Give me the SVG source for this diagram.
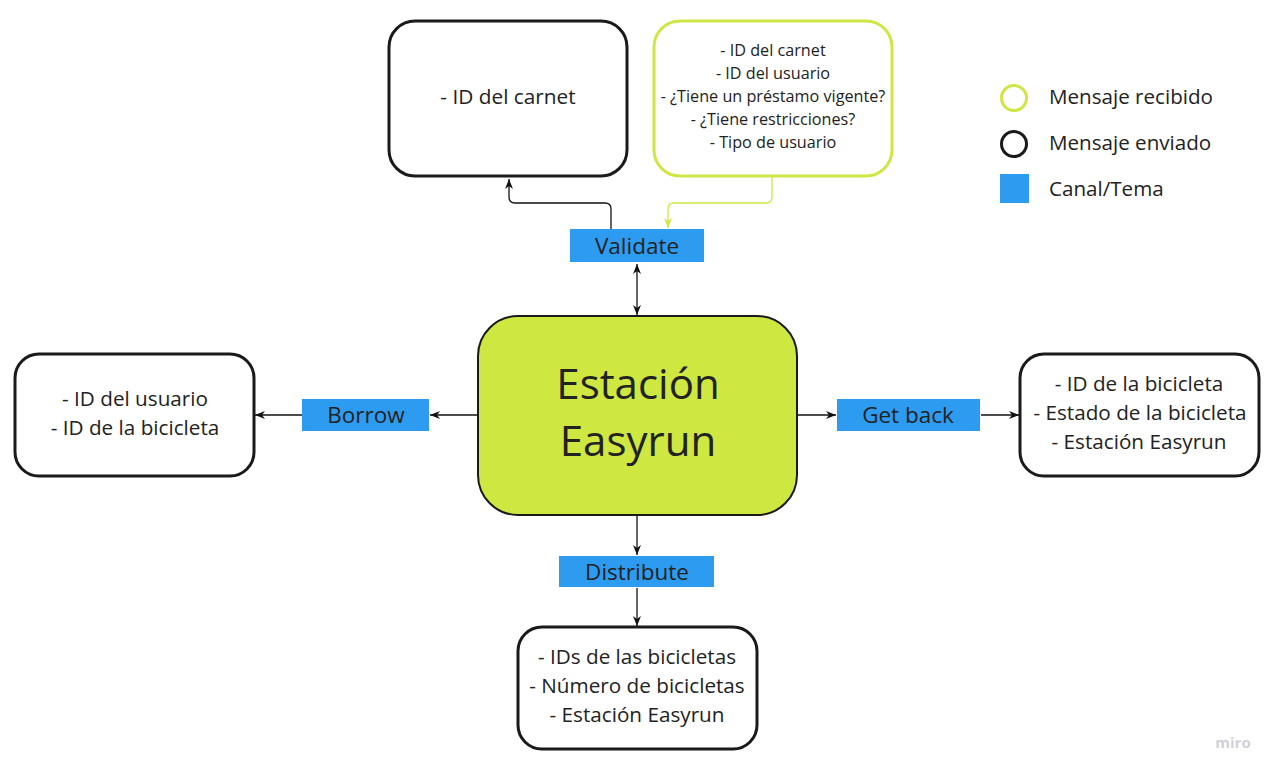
<svg xmlns="http://www.w3.org/2000/svg" width="1283" height="779" viewBox="0 0 1283 779">
<defs>
<style>
text{font-family:"Open Sans","Noto Sans","Liberation Sans",sans-serif;fill:#222;text-anchor:middle}
.msg{fill:#fff;stroke:#1a1a1a;stroke-width:3}
.rcv{fill:#fff;stroke:#cfe645;stroke-width:3}
.ch{fill:#2d9bf0}
.t20{font-size:20.8px}
.t19{font-size:20.7px}
.t15{font-size:16.2px}
.tc{font-size:22.5px}
.tl{font-size:20.6px;text-anchor:start}
.ln{fill:none;stroke:#111;stroke-width:1.3}
.lg{fill:none;stroke:#cfe645;stroke-width:1.3}
</style>
<marker id="ah" viewBox="0 0 10 10" refX="10" refY="5" markerWidth="10" markerHeight="10" markerUnits="userSpaceOnUse" orient="auto-start-reverse">
<path d="M0,1 L10,5 L0,9 L3,5 Z" fill="#111"/>
</marker>
<marker id="ahg" viewBox="0 0 10 10" refX="10" refY="5" markerWidth="10" markerHeight="10" markerUnits="userSpaceOnUse" orient="auto">
<path d="M0,1 L10,5 L0,9 L3,5 Z" fill="#cfe645"/>
</marker>
</defs>
<rect width="1283" height="779" fill="#fff"/>
<g id="connectors">
<path class="ln" d="M611,229 V209 Q611,203 605,203 H515 Q509,203 509,197 V179" marker-end="url(#ah)"/>
<path class="lg" d="M772,177 V197 Q772,203 766,203 H674 Q668,203 668,209 V228" marker-end="url(#ahg)"/>
<path class="ln" d="M637,264 V315" marker-start="url(#ah)" marker-end="url(#ah)"/>
<path class="ln" d="M477,415 H430" marker-end="url(#ah)"/>
<path class="ln" d="M302,415 H255" marker-end="url(#ah)"/>
<path class="ln" d="M798,415 H836" marker-end="url(#ah)"/>
<path class="ln" d="M981,415 H1019" marker-end="url(#ah)"/>
<path class="ln" d="M637,516 V555" marker-end="url(#ah)"/>
<path class="ln" d="M637,588 V626" marker-end="url(#ah)"/>
</g>
<g id="node-carnet">
<rect class="msg" x="389" y="21" width="238" height="155" rx="26"/>
<text class="t20" x="508" y="104">- ID del carnet</text>
</g>
<g id="node-validacion">
<rect class="rcv" x="654" y="21" width="238" height="155" rx="26"/>
<text class="t15" x="773" y="56">- ID del carnet</text>
<text class="t15" x="773" y="79">- ID del usuario</text>
<text class="t15" x="773" y="102">- ¿Tiene un préstamo vigente?</text>
<text class="t15" x="773" y="125">- ¿Tiene restricciones?</text>
<text class="t15" x="773" y="148">- Tipo de usuario</text>
</g>
<g id="ch-validate">
<rect class="ch" x="570" y="229" width="134" height="33"/>
<text class="tc" x="637" y="254">Validate</text>
</g>
<g id="node-estacion">
<rect x="478" y="316" width="319" height="199" rx="40" fill="#cee741" stroke="#1a1a1a" stroke-width="2"/>
<text x="638" y="399" font-size="42">Estación</text>
<text x="638" y="456" font-size="42">Easyrun</text>
</g>
<g id="ch-borrow">
<rect class="ch" x="302" y="399" width="127" height="32"/>
<text class="tc" x="366" y="423">Borrow</text>
</g>
<g id="node-borrow">
<rect class="msg" x="15" y="354" width="239" height="122" rx="24"/>
<text class="t19" x="135" y="406">- ID del usuario</text>
<text class="t19" x="135" y="435">- ID de la bicicleta</text>
</g>
<g id="ch-getback">
<rect class="ch" x="837" y="399" width="143" height="32"/>
<text class="tc" x="908" y="423">Get back</text>
</g>
<g id="node-getback">
<rect class="msg" x="1020" y="354" width="239" height="122" rx="24"/>
<text class="t19" x="1139" y="391">- ID de la bicicleta</text>
<text class="t19" x="1140" y="420">- Estado de la bicicleta</text>
<text class="t19" x="1139" y="449">- Estación Easyrun</text>
</g>
<g id="ch-distribute">
<rect class="ch" x="559" y="556" width="155" height="31"/>
<text class="tc" x="637" y="580">Distribute</text>
</g>
<g id="node-distribute">
<rect class="msg" x="518" y="627" width="239" height="122" rx="24"/>
<text class="t19" x="637" y="664">- IDs de las bicicletas</text>
<text class="t19" x="637" y="693">- Número de bicicletas</text>
<text class="t19" x="637" y="722">- Estación Easyrun</text>
</g>
<g id="legend">
<circle cx="1014" cy="98" r="12.5" fill="none" stroke="#cfe645" stroke-width="3"/>
<text class="tl" x="1049" y="104">Mensaje recibido</text>
<circle cx="1014" cy="144" r="12.5" fill="none" stroke="#1a1a1a" stroke-width="3"/>
<text class="tl" x="1049" y="150">Mensaje enviado</text>
<rect class="ch" x="1000" y="174" width="29" height="29"/>
<text class="tl" x="1049" y="196">Canal/Tema</text>
</g>
<text x="1233" y="748" font-size="15" style="fill:#d0d0d8;font-weight:bold">miro</text>
</svg>
